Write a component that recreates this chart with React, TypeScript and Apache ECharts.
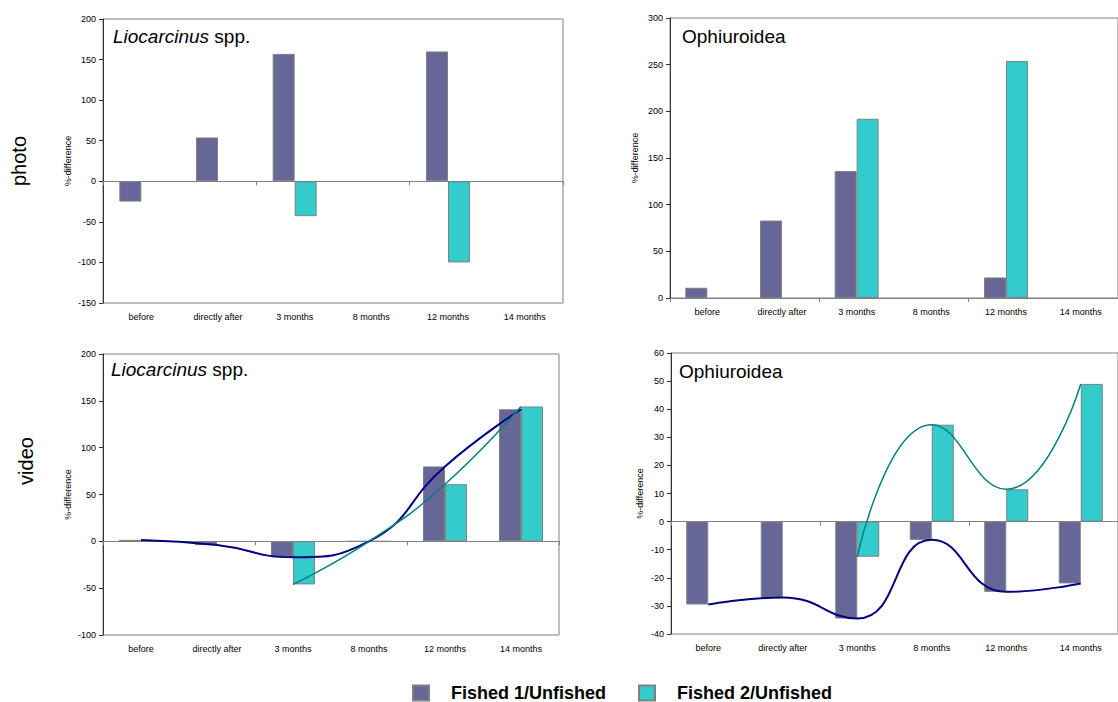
import React, { useEffect, useRef } from "react";
import * as echarts from "echarts";

const categories = ["before", "directly after", "3 months", "8 months", "12 months", "14 months"];

// photo – Liocarcinus spp.
const photoLioF1 = [-25, 54, 157, null, 160, null];
const photoLioF2 = [null, null, -43, null, -100, null];
// photo – Ophiuroidea
const photoOphF1 = [11, 83, 136, null, 22, null];
const photoOphF2 = [null, null, 192, null, 254, null];
// video – Liocarcinus spp.
const videoLioF1 = [1.5, -4, -17, 0, 80, 141];
const videoLioF2 = [null, null, -46, 0, 61, 144];
// video – Ophiuroidea
const videoOphF1 = [-29.5, -27, -34.5, -6.5, -25, -22];
const videoOphF2 = [null, null, -12.5, 34.5, 11.5, 49];

const yRanges = [
  { min: -150, max: 200, interval: 50 },
  { min: 0, max: 300, interval: 50 },
  { min: -100, max: 200, interval: 50 },
  { min: -40, max: 60, interval: 10 },
];

const seriesNames = ["Fished 1/Unfished", "Fished 2/Unfished"];
const rowLabels = ["photo", "video"];

const FONT = "'Liberation Sans', Arial, sans-serif";
const C1 = "#666699";
const C2 = "#33cccc";
const L1 = "#000080";
const L2 = "#008080";

export default function App() {
  const ref = useRef<HTMLDivElement>(null);

  useEffect(() => {
    if (!ref.current) return;
    const chart = echarts.init(ref.current, null, { renderer: "svg" });

    const grids = [
      { left: 103, top: 19, width: 460, height: 284 },
      { left: 670, top: 18, width: 459, height: 280 },
      { left: 103, top: 354, width: 456, height: 281 },
      { left: 671, top: 353, width: 460, height: 281 },
    ];

    const xAxis: any[] = [];
    const yAxis: any[] = [];
    grids.forEach((_, g) => {
      xAxis.push({
        type: "category",
        gridIndex: g,
        data: categories,
        position: "bottom",
        axisLine: { show: false, onZero: false },
        axisTick: { show: false },
        axisLabel: { fontSize: 9, color: "#000", fontFamily: FONT, margin: 9, interval: 0 },
      });
      xAxis.push({
        type: "category",
        gridIndex: g,
        data: categories,
        position: "top",
        axisLine: { show: true, onZero: true, lineStyle: { color: "#808080", width: 1 } },
        axisTick: { show: true, inside: true, length: 4, lineStyle: { color: "#808080" } },
        axisLabel: { show: false },
      });
      const nameGaps = [31, 31, 31, 27];
      yAxis.push({
        type: "value",
        gridIndex: g,
        min: yRanges[g].min,
        max: yRanges[g].max,
        interval: yRanges[g].interval,
        name: "%-difference",
        nameLocation: "middle",
        nameGap: nameGaps[g],
        nameTextStyle: { fontSize: 9, color: "#000", fontFamily: FONT },
        axisLine: { show: true, lineStyle: { color: "#333", width: 1 } },
        axisTick: { show: true, length: 4, lineStyle: { color: "#333" } },
        axisLabel: { fontSize: 9, color: "#000", fontFamily: FONT, margin: 7 },
        splitLine: { show: false },
      });
    });

    const barData = [
      [photoLioF1, photoLioF2],
      [photoOphF1, photoOphF2],
      [videoLioF1, videoLioF2],
      [videoOphF1, videoOphF2],
    ];

    const series: any[] = [];
    barData.forEach((pair, g) => {
      pair.forEach((d, k) => {
        series.push({
          type: "bar",
          name: seriesNames[k],
          xAxisIndex: 2 * g,
          yAxisIndex: g,
          data: d,
          barWidth: 22,
          barGap: "0%",
          itemStyle: { color: k === 0 ? C1 : C2, borderColor: "#808080", borderWidth: 1 },
        });
      });
    });
    [2, 3].forEach((g) => {
      barData[g].forEach((d, k) => {
        series.push({
          type: "line",
          name: k === 0 ? "trend 1" : "trend 2",
          xAxisIndex: 2 * g,
          yAxisIndex: g,
          data: d,
          smooth: 0.5,
          symbol: "none",
          connectNulls: false,
          lineStyle: { color: k === 0 ? L1 : L2, width: k === 0 ? 2 : 1.5 },
          z: 5,
        });
      });
    });

    const titleStyle = {
      fontSize: 19,
      fontWeight: "normal",
      color: "#000",
      fontFamily: FONT,
      rich: { i: { fontStyle: "italic", fontSize: 19, fontFamily: FONT, color: "#000" } },
    };

    chart.setOption({
      animation: false,
      backgroundColor: "#fff",
      title: [
        { text: "{i|Liocarcinus} spp.", left: 113, top: 27, padding: 0, textStyle: titleStyle },
        { text: "Ophiuroidea", left: 682, top: 27, padding: 0, textStyle: titleStyle },
        { text: "{i|Liocarcinus} spp.", left: 111, top: 360, padding: 0, textStyle: titleStyle },
        { text: "Ophiuroidea", left: 679, top: 362, padding: 0, textStyle: titleStyle },
      ],
      grid: grids.map((g) => ({ ...g, show: true, borderColor: "#808080", borderWidth: 1, backgroundColor: "transparent" })),
      xAxis,
      yAxis,
      series,
      legend: {
        data: seriesNames,
        left: 412,
        top: 684,
        padding: 0,
        itemWidth: 16,
        itemHeight: 15,
        itemGap: 32,
        icon: "rect",
        textStyle: {
          fontSize: 18,
          fontWeight: "bold",
          lineHeight: 15,
          color: "#000",
          fontFamily: FONT,
          padding: [0, 0, 0, 17],
        },
      },
      graphic: [
        {
          type: "text",
          x: 19,
          y: 161,
          rotation: Math.PI / 2,
          style: { text: rowLabels[0], fontSize: 20, fontFamily: FONT, fill: "#000", align: "center", verticalAlign: "middle" },
        },
        {
          type: "text",
          x: 26,
          y: 461,
          rotation: Math.PI / 2,
          style: { text: rowLabels[1], fontSize: 20, fontFamily: FONT, fill: "#000", align: "center", verticalAlign: "middle" },
        },
      ],
    });

    return () => chart.dispose();
  }, []);

  return (
    <div
      ref={ref}
      style={{ position: "absolute", left: 0, top: 0, width: 1118, height: 702, background: "#fff" }}
    />
  );
}
